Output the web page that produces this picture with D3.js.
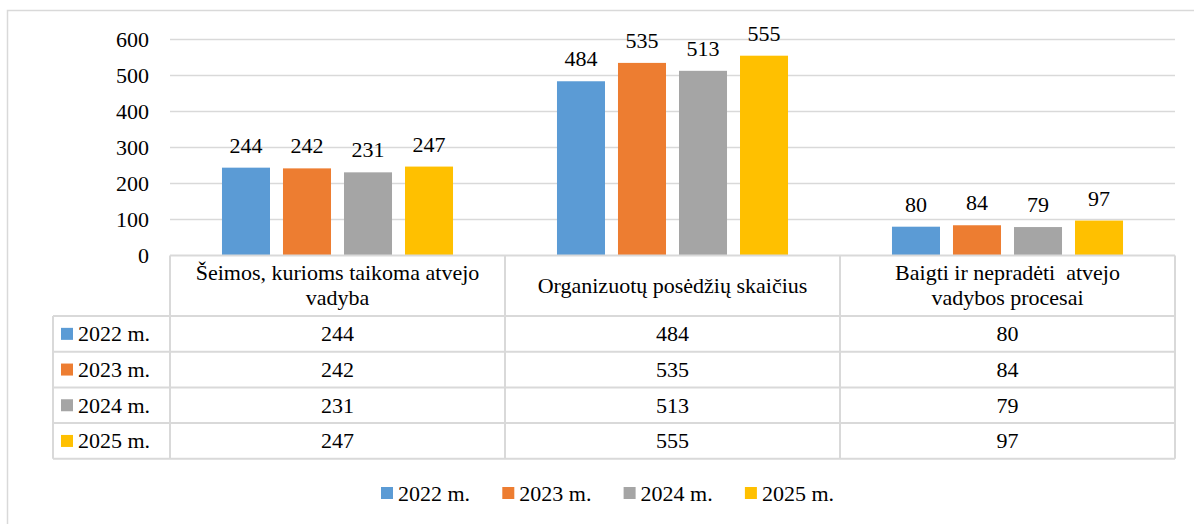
<!DOCTYPE html>
<html>
<head>
<meta charset="utf-8">
<script src="https://cdn.jsdelivr.net/npm/d3@7"></script>
</head>
<body style="margin:0">
<script>
const width = 1194;
const height = 524;

const categories = [
    ["Šeimos, kurioms taikoma atvejo", "vadyba"],
    ["Organizuotų posėdžių skaičius"],
    ["Baigti ir nepradėti  atvejo", "vadybos procesai"]
];
const series = ["2022 m.", "2023 m.", "2024 m.", "2025 m."];
const values2022 = [244, 484, 80];
const values2023 = [242, 535, 84];
const values2024 = [231, 513, 79];
const values2025 = [247, 555, 97];
const yTicks = [0, 100, 200, 300, 400, 500, 600];

const allValues = [values2022, values2023, values2024, values2025];
const colors = ["#5B9BD5", "#ED7D31", "#A5A5A5", "#FFC000"];
const gridColor = "#d9d9d9";
const fontSize = 22;
const fontName = "Liberation Serif";

let svg = d3.select("body").append("svg")
    .attr("width", width)
    .attr("height", height)
    .style("font-family", fontName, "important")

// every label uses the same serif font
function label(sel) {
    return sel.append("text")
        .attr("font-size", fontSize)
        .attr("font-family", fontName)
        .style("font-family", fontName, "important")
        .style("white-space", "pre")
}

// outer frame (only top and left visible)
svg.append("rect")
    .attr("x", 7.5)
    .attr("y", 10.5)
    .attr("width", width + 20)
    .attr("height", height + 20)
    .attr("fill", "none")
    .attr("stroke", gridColor)
    .attr("stroke-width", 1.5)

let x0 = d3.scaleBand()
    .domain(d3.range(categories.length))
    .range([170, 1175])

let x1 = d3.scaleBand()
    .domain(d3.range(series.length))
    .range([0, x0.bandwidth()])
    .paddingInner(0.213)
    .paddingOuter(0.852)

let y = d3.scaleLinear()
    .domain([0, 600])
    .range([255.5, 39.5])

// gridlines
svg.append("g")
    .selectAll("line")
    .data(yTicks.slice(1))
    .enter()
    .append("line")
    .attr("x1", 170)
    .attr("x2", 1175)
    .attr("y1", d => y(d))
    .attr("y2", d => y(d))
    .attr("stroke", gridColor)
    .attr("stroke-width", 1.3)

// y axis labels
let yAxisG = svg.append("g")
yTicks.forEach(function (t) {
    label(yAxisG)
        .attr("x", 149)
        .attr("y", y(t) + 7)
        .attr("text-anchor", "end")
        .text(t)
})

// bars
let groups = svg.append("g")
    .selectAll("g")
    .data(categories)
    .enter()
    .append("g")
    .attr("transform", (d, i) => "translate(" + x0(i) + ",0)")

groups.each(function (c, ci) {
    let g = d3.select(this);
    series.forEach(function (s, si) {
        let v = allValues[si][ci];
        g.append("rect")
            .attr("x", x1(si))
            .attr("y", y(v))
            .attr("width", x1.bandwidth())
            .attr("height", y(0) - y(v))
            .attr("fill", colors[si])
        label(g)
            .attr("x", x1(si) + x1.bandwidth() / 2)
            .attr("y", y(v) - 15)
            .attr("text-anchor", "middle")
            .text(v)
    })
})

// data table
const tableTop = 255.5;
const headerH = 60.5;
const rowH = 35.7;
const labelLeft = 53;
const tableRight = 1175;
let tableG = svg.append("g")

// horizontal lines
tableG.append("line")
    .attr("x1", 170).attr("x2", tableRight)
    .attr("y1", tableTop).attr("y2", tableTop)
    .attr("stroke", gridColor).attr("stroke-width", 2)
for (let r = 0; r <= series.length; r++) {
    let yy = tableTop + headerH + r * rowH;
    tableG.append("line")
        .attr("x1", labelLeft).attr("x2", tableRight)
        .attr("y1", yy).attr("y2", yy)
        .attr("stroke", gridColor).attr("stroke-width", 2)
}
// vertical lines
const tableBottom = tableTop + headerH + series.length * rowH;
tableG.append("line")
    .attr("x1", labelLeft).attr("x2", labelLeft)
    .attr("y1", tableTop + headerH).attr("y2", tableBottom)
    .attr("stroke", gridColor).attr("stroke-width", 2)
for (let i = 0; i <= categories.length; i++) {
    let xx = i < categories.length ? x0(i) : tableRight;
    tableG.append("line")
        .attr("x1", xx).attr("x2", xx)
        .attr("y1", tableTop).attr("y2", tableBottom)
        .attr("stroke", gridColor).attr("stroke-width", 2)
}

// header text
categories.forEach(function (lines, ci) {
    let cx = x0(ci) + x0.bandwidth() / 2;
    let mid = tableTop + headerH / 2;
    let lh = 25;
    lines.forEach(function (line, li) {
        label(tableG)
            .attr("x", cx)
            .attr("y", mid + 7 + (li - (lines.length - 1) / 2) * lh)
            .attr("text-anchor", "middle")
            .text(line)
    })
})

// rows
series.forEach(function (s, si) {
    let cy = tableTop + headerH + si * rowH + rowH / 2;
    tableG.append("rect")
        .attr("x", 61)
        .attr("y", cy - 6)
        .attr("width", 12)
        .attr("height", 12)
        .attr("fill", colors[si])
    label(tableG)
        .attr("x", 78)
        .attr("y", cy + 7.5)
        .text(s)
    categories.forEach(function (c, ci) {
        label(tableG)
            .attr("x", x0(ci) + x0.bandwidth() / 2)
            .attr("y", cy + 7.5)
            .attr("text-anchor", "middle")
            .text(allValues[si][ci])
    })
})

// legend
let legendG = svg.append("g")
series.forEach(function (s, i) {
    let g = legendG.append("g")
        .attr("transform", "translate(" + (381 + i * 121.3) + ",493)")
    g.append("rect")
        .attr("x", 0)
        .attr("y", -6)
        .attr("width", 12)
        .attr("height", 12)
        .attr("fill", colors[i])
    label(g)
        .attr("x", 17)
        .attr("y", 7.5)
        .text(s)
})
</script>
</body>
</html>
